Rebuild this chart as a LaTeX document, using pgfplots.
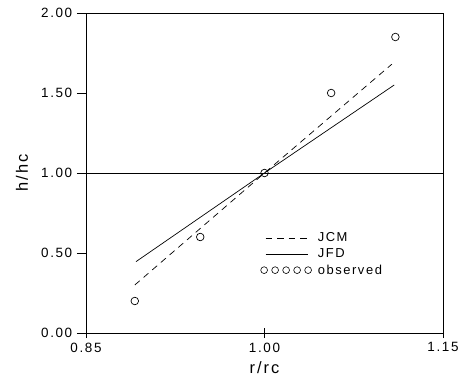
\documentclass[border=0pt]{standalone}
\usepackage{fontspec}
\setmainfont[LetterSpace=12]{Liberation Sans}
\usepackage{pgfplots}
\pgfplotsset{compat=1.18}
\pgfplotsset{
  longline legend/.style={legend image code/.code={\draw[##1] (0bp,0bp) -- (42bp,0bp);}},
  circles legend/.style={legend image code/.code={\foreach \i in {0,1,2,3,4} {\draw[black, line width=0.6bp] (\i*11bp-1.5bp,0bp) circle (3.4bp);}}},
}
\begin{document}
\begin{tikzpicture}
\begin{axis}[
  scale only axis, width=357bp, height=320bp,
  xmin=0.85, xmax=1.15, ymin=0, ymax=2,
  xtick={0.85,1.00,1.15}, ytick={0,0.5,1,1.5,2},
  tick pos=left,
  xtick align=center, ytick align=outside,
  xtick style={/pgfplots/major tick length=10bp},
  ytick style={/pgfplots/major tick length=9bp},
  /pgf/number format/assume math mode=true,
  xticklabel style={/pgf/number format/.cd,fixed,fixed zerofill,precision=2, /tikz/.cd, yshift=-4bp},
  yticklabel style={/pgf/number format/.cd,fixed,fixed zerofill,precision=2, /tikz/.cd, xshift=-6bp},
  tick label style={font=\fontsize{13.5}{15}\selectfont},
  label style={font=\fontsize{16.5}{18}\selectfont},
  xlabel={r/rc}, ylabel={h/hc},
  xlabel style={at={(axis description cs:0.5,-0.109)}, anchor=center},
  ylabel style={at={(axis description cs:-0.179,0.5)}, anchor=center},
  every axis line/.style={line width=0.9bp},
  every tick/.style={line width=0.8bp, black},
  legend style={draw=none, fill=none, at={(rel axis cs:0.488,0.32)}, anchor=north west,
    font=\fontsize{13}{15}\selectfont, row sep=1.5bp, inner sep=0bp,
    /tikz/every odd column/.style={column sep=4bp}},
  legend cell align=left,
]
\addplot[black, line width=0.7bp, dash pattern=on 6.5bp off 5bp, longline legend]
  coordinates {(0.891,0.30) (1.000,1.00) (1.107,1.68)};
\addlegendentry{JCM}
\addplot[black, line width=0.7bp, longline legend]
  coordinates {(0.892,0.446) (1.000,1.00) (1.109,1.55)};
\addlegendentry{JFD}
\addplot[only marks, mark=o, mark size=3.8bp, black, mark options={line width=0.7bp}, circles legend]
  coordinates {(0.891,0.20) (0.946,0.60) (1.000,1.00) (1.056,1.50) (1.110,1.85)};
\addlegendentry{observed}
\addplot[black, line width=0.8bp, forget plot] coordinates {(0.85,1) (1.15,1)};
\coordinate (sw) at (rel axis cs:0,0);
\end{axis}
\path (sw) ++(-86bp,-52bp) rectangle ++(465bp,385bp);
\end{tikzpicture}
\end{document}
